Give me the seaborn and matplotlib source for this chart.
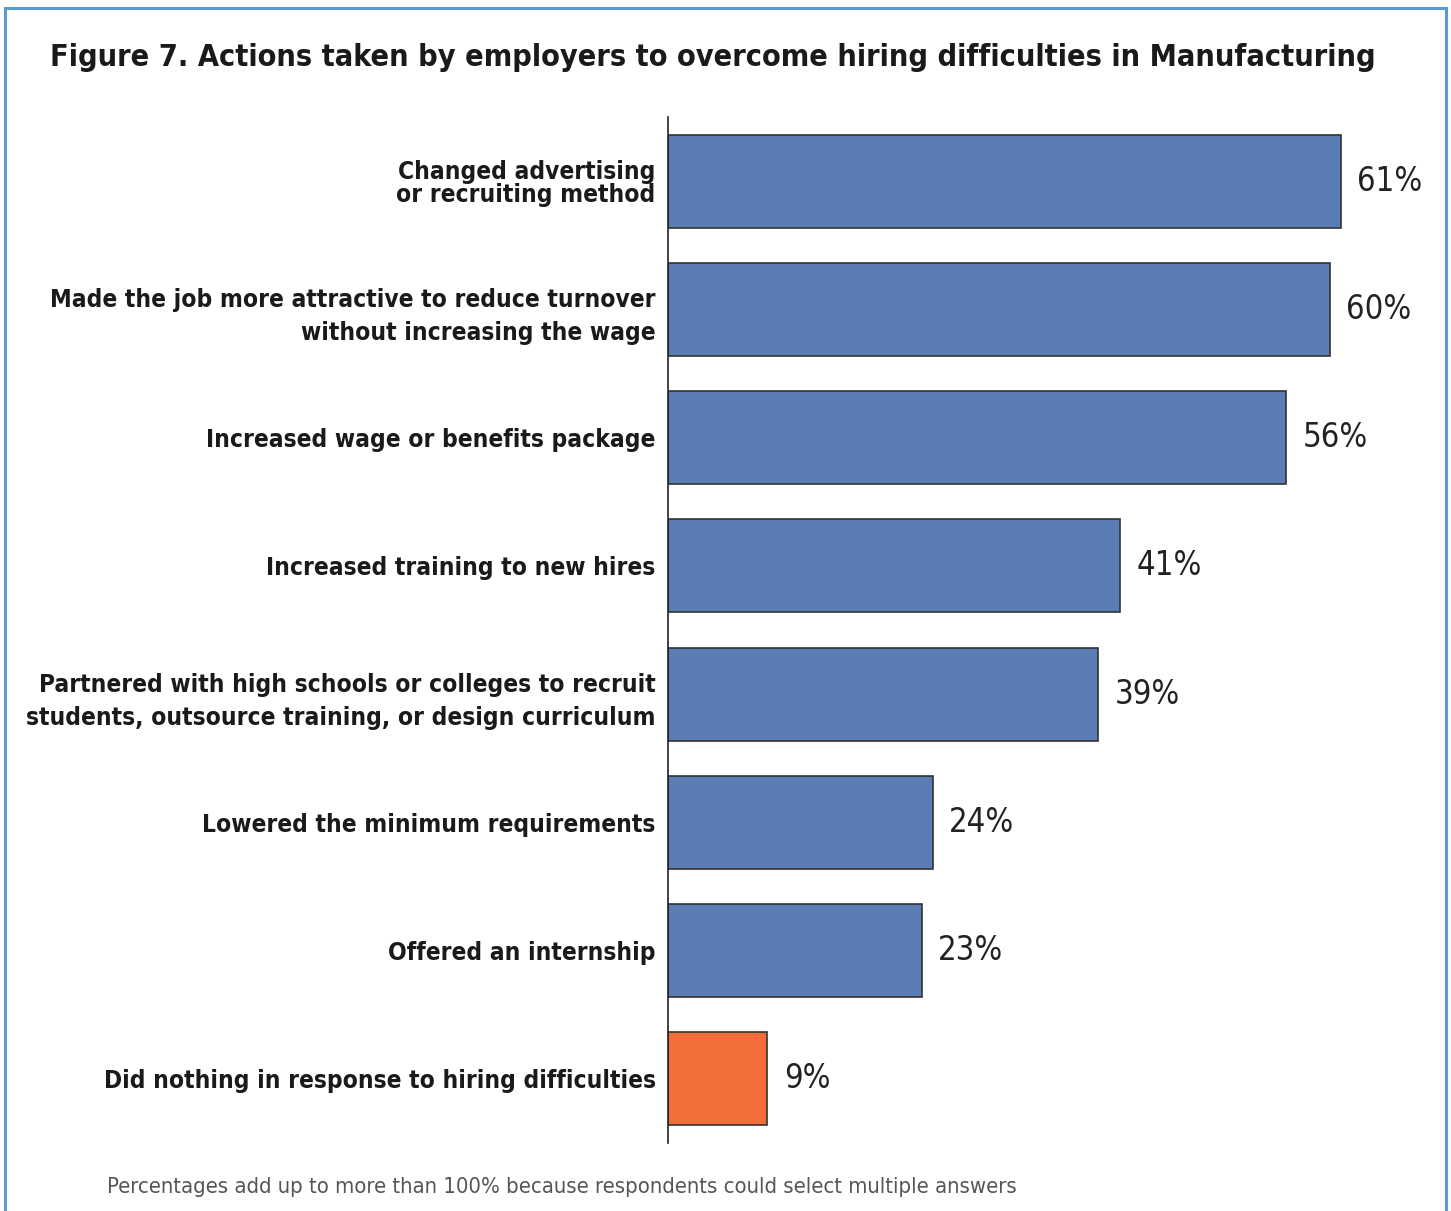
import matplotlib
matplotlib.use("Agg")
import matplotlib.pyplot as plt
from matplotlib.patches import Rectangle
import seaborn as sns
import pandas as pd

categories = [
    "Changed advertising\nor recruiting method",
    "Made the job more attractive to reduce turnover\nwithout increasing the wage",
    "Increased wage or benefits package",
    "Increased training to new hires",
    "Partnered with high schools or colleges to recruit\nstudents, outsource training, or design curriculum",
    "Lowered the minimum requirements",
    "Offered an internship",
    "Did nothing in response to hiring difficulties",
]
values = [61, 60, 56, 41, 39, 24, 23, 9]
bar_colors = ["#5B7DB5"] * 7 + ["#F26D38"]

title = "Figure 7. Actions taken by employers to overcome hiring difficulties in Manufacturing"
footnote = "Percentages add up to more than 100% because respondents could select multiple answers"

sns.set_style("white")
plt.rcParams["font.family"] = ["DejaVu Sans"]
plt.rcParams["font.stretch"] = "condensed"

df = pd.DataFrame({"action": categories, "pct": values})

fig = plt.figure(figsize=(14.51, 12.11), dpi=100)
ax = fig.add_axes([668 / 1451, 1 - 1143 / 1211, (1440 - 668) / 1451, (1143 - 117) / 1211])

sns.barplot(
    data=df, x="pct", y="action", hue="action", palette=bar_colors,
    legend=False, orient="h", width=0.725, edgecolor="#333333", linewidth=1.2,
    saturation=1, ax=ax,
)

ax.set_xlim(0, 70)
ax.set_ylim(7.5, -0.5)
ax.set_xlabel("")
ax.set_ylabel("")
ax.set_xticks([])
for side in ["top", "right", "bottom"]:
    ax.spines[side].set_visible(False)
ax.spines["left"].set_color("#222222")
ax.spines["left"].set_linewidth(1.2)

ax.tick_params(axis="y", length=0, pad=9)
for i, lab in enumerate(ax.get_yticklabels()):
    lab.set_fontsize(17.6)
    lab.set_fontweight("bold")
    lab.set_fontstretch("condensed")
    lab.set_color("#1a1a1a")
    lab.set_linespacing(0.95 if i == 0 else 1.5)

for cont in ax.containers:
    ax.bar_label(cont, labels=[f"{v:.0f}%" for v in cont.datavalues],
                 padding=12, fontsize=23.5, color="#222222", fontstretch="condensed")

fig.text(50 / 1451, 1 - 57 / 1211, title, fontsize=22, fontweight="bold",
         fontstretch="condensed", color="#1a1a1a", ha="left", va="center")
fig.text(107 / 1451, 1 - 1187 / 1211, footnote, fontsize=15.8, color="#555555",
         fontstretch="condensed", ha="left", va="center")

fig.patches.append(Rectangle((5 / 1451, -0.05), (1446 - 5) / 1451, 1.05 - 8 / 1211,
                             transform=fig.transFigure, fill=False,
                             edgecolor="#5B9BD5", linewidth=2.2))

fig.savefig("out.png", dpi=100, facecolor="white")
